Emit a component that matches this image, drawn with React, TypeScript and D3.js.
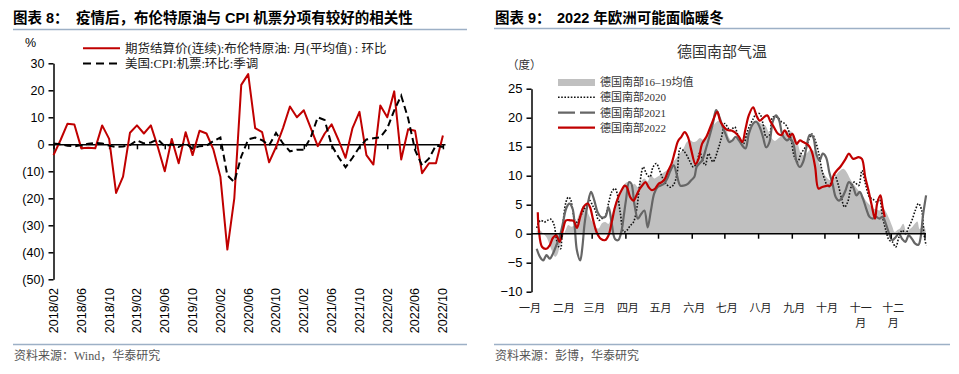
import { FC, useEffect, useRef } from 'react';
import * as d3 from 'd3';

// ---------- 图表 8 ----------
const LEFT_X_LABELS = [
  '2018/02', '2018/06', '2018/10', '2019/02', '2019/06', '2019/10', '2020/02', '2020/06',
  '2020/10', '2021/02', '2021/06', '2021/10', '2022/02', '2022/06', '2022/10',
];
const LEFT_Y_TICKS = [30, 20, 10, 0, -10, -20, -30, -40, -50];

// monthly, 2018/02 .. 2022/10
const brentMoM = [
  -4, 1.5, 7.6, 7.3, -1.5, -1.3, -1.5, 7, 2, -18, -12,
  4.3, 7, 4, 7, -1, -10, 2, -7, 4.5, -4, 5, 4,
  -2, -12, -39, -20, 22, 26, 6, 4.5, -6.7, -1, 6, 14,
  10, 12.6, 6, -0.7, 4, 7.4, 1.5, -5, 6, 12, -4, -7.5,
  14.4, 10, 19.6, -5.6, 5.6, 5, -10.7, -7, -7, 3.3,
];
const airfareMoM = [
  0.3, 0, -0.5, -0.8, -0.3, 0.2, 0.5, 0.3, -0.5, -1, -0.8,
  -0.3, 1.5, 0.3, 0.7, 1.8, -0.7, 0, -1, 0.5, -1.7, -0.7, -0.5,
  1.2, 2.5, -11.5, -14, -4.5, 1.8, 2.5, 1.5, -0.4, 4.2, 0.3, -2.6,
  -2, -2, 2.6, 10, 9, -0.4, -4.8, -8.5, -5, -1, 1.8, 2.2,
  2.6, 5.9, 12.6, 18, 9.6, -2.2, -7.8, -5.2, -0.4, -1,
];

// ---------- 图表 9 ----------
const MONTH_LABELS = ['一月', '二月', '三月', '四月', '五月', '六月', '七月', '八月', '九月', '十月', '十一月', '十二月'];
const MONTH_START_DAYS = [0, 31, 59, 90, 120, 151, 181, 212, 243, 273, 304, 334, 365];
const RIGHT_Y_TICKS = [25, 20, 15, 10, 5, 0, -5, -10];

// [day of year, °C]
const avg1619: [number, number][] = [
  [8, 0.5], [11, 0.6], [14, 0], [17, -0.6], [20, -2], [22, -3], [25, -4], [27, -3.6], [29, -2.3], [32, -0.6],
  [35, 0.8], [37, 1.5], [40, 1.2], [43, 1.5], [46, 2.9], [49, 4.2], [51, 4.8], [54, 4], [57, 2.8], [60, 1.7],
  [63, 1], [65, 0.9], [68, 1.8], [71, 2], [74, 1.7], [77, 3.4], [80, 5], [82, 6.3], [86, 7.5], [89, 8.6],
  [92, 8.9], [95, 8.3], [98, 8.6], [101, 8], [104, 9], [107, 9.5], [110, 9], [113, 10.1], [116, 9.5], [119, 9.8],
  [122, 10.2], [125, 10.6], [128, 11], [131, 11.8], [134, 12.5], [137, 13.2], [140, 14], [143, 14.7], [146, 15.8],
  [149, 16.1], [152, 15.8], [155, 16], [158, 16.5], [161, 16.2], [164, 16.5], [167, 17.5], [170, 18.5], [173, 19.2],
  [176, 19.5], [179, 19], [182, 18.2], [185, 16.5], [188, 16], [191, 16.4], [194, 16.3], [197, 16], [200, 16.8],
  [203, 18], [206, 18.8], [209, 19.3], [212, 19.2], [215, 18.9], [218, 18.7], [221, 17.6], [224, 16.5], [227, 16],
  [230, 16.4], [233, 16.9], [236, 17.3], [239, 17.7], [242, 17.6], [245, 16.8], [248, 15.6], [251, 13.8], [254, 13.5],
  [257, 14], [260, 14.6], [263, 14.2], [266, 12.8], [269, 11.6], [272, 10.4], [275, 9.6], [278, 9.2], [281, 9.5],
  [284, 10.3], [287, 10.9], [290, 11.2], [293, 10.6], [296, 9.5], [299, 8.6], [302, 7.9], [305, 7.2], [308, 6.4],
  [311, 5.6], [314, 5], [317, 4.4], [320, 4.2], [323, 4], [326, 4.4], [329, 3.8], [332, 2.6], [335, 1.2], [337, 0.3],
  [340, 0.7], [342, 0.9], [345, 1.7], [348, 0.3], [351, 0.8], [353, 1.1], [356, 1.8], [358, 2.1], [360, 0.8],
  [362, 1.2], [364, 1.4], [366, 0],
];
const temp2020: [number, number][] = [
  [8, 1], [10, 2], [12, 2.3], [15, 2], [18, 2.3], [21, 2.5], [24, 1.5], [26, -0.8], [28, -2.2], [30, -2.6], [31, -1],
  [33, 3.2], [35, 5.5], [37, 6.3], [39, 6], [41, 4.2], [43, 2.3], [45, 2], [48, 2.9], [51, 4], [54, 4.9], [57, 5.7],
  [59, 5], [62, 4], [65, 2.3], [68, 2.6], [71, 3], [74, 5.2], [77, 7.2], [80, 7.8], [82, 6.9], [85, 3.4], [88, 0.3],
  [91, 0.6], [94, 1.4], [97, 2], [100, 4.3], [103, 8.9], [106, 11.5], [109, 10.3], [112, 9.8], [115, 11.5], [118, 12.1],
  [121, 10.9], [124, 9.5], [127, 8.6], [131, 8], [134, 8.5], [137, 10.3], [140, 14.7], [143, 14.3], [146, 13.5],
  [149, 12.4], [152, 11.5], [155, 12.2], [158, 14], [161, 12.4], [163, 11.8], [166, 13.8], [170, 12.4], [175, 14.7],
  [178, 16.7], [181, 19], [184, 18.2], [186, 17.8], [190, 18.4], [193, 17], [198, 15.5], [202, 17.8], [207, 19.8],
  [210, 20.7], [213, 20.7], [216, 19], [219, 16.7], [222, 17], [225, 20.1], [229, 20.1], [233, 19.3], [236, 19],
  [239, 18.1], [242, 16.1], [245, 13.2], [248, 12.4], [251, 13.8], [256, 15.2], [261, 17.2], [264, 16.1], [267, 14.1],
  [270, 11.2], [273, 9.2], [276, 8], [279, 8.9], [282, 10.1], [285, 8.6], [288, 6.3], [291, 4.6], [294, 5.5], [297, 8],
  [300, 8.9], [304, 8.3], [307, 10.9], [310, 8.8], [314, 6.3], [317, 6], [320, 5.5], [323, 6], [326, 2.9], [329, 0.6],
  [332, -1.1], [335, -1.4], [338, -2.3], [341, -0.6], [344, 0.6], [347, 0], [350, 1.1], [353, 2.3], [356, 4],
  [359, 5.2], [362, 4], [364, 0], [366, -2],
];
const temp2021: [number, number][] = [
  [8, -2.6], [11, -4], [14, -4.6], [17, -3.7], [20, -4.3], [23, -3.4], [26, -2], [29, -0.6], [32, 1.7], [35, 4.3],
  [38, 5.2], [41, 4.3], [43, 1.1], [45, -2.9], [48, -4.6], [50, -2.3], [52, 1.7], [55, 5.2], [58, 7.2], [61, 5.7],
  [64, 3.7], [67, 2.9], [71, 2.9], [74, 4.6], [77, 1.7], [80, -0.9], [83, -1.1], [86, 0.5], [88, 3], [90, 5.7],
  [93, 8.9], [95, 8.6], [98, 4.9], [101, 2.6], [104, 3.4], [107, 4], [110, 1.1], [113, 4], [116, 6.9], [119, 8],
  [122, 8.3], [125, 8.6], [128, 9.5], [131, 10.9], [134, 11.8], [137, 10], [140, 8.3], [143, 8.3], [147, 8.6],
  [150, 9.2], [153, 9.8], [155, 11.5], [158, 12.2], [160, 12.6], [164, 14.9], [170, 19], [173, 21.3], [176, 20.1],
  [179, 18.4], [182, 17], [185, 15.8], [188, 16.1], [191, 16.7], [194, 16.1], [197, 15.2], [200, 14.7], [203, 17.2],
  [207, 19], [210, 19.3], [213, 18.4], [216, 16.7], [219, 14.9], [222, 15.8], [225, 19.3], [228, 20.4], [231, 19.5],
  [234, 17], [238, 16.1], [241, 16.4], [244, 15.5], [247, 12.4], [250, 11.5], [253, 12.4], [256, 14.9], [259, 17],
  [262, 16.7], [265, 13.8], [268, 12.6], [271, 13.8], [274, 13.2], [277, 10.6], [280, 8.6], [283, 6.3], [286, 5.7],
  [289, 6.3], [292, 7.5], [295, 8.9], [299, 8], [302, 6.6], [305, 7.2], [308, 6], [311, 4.3], [314, 2.9], [317, 2.6],
  [320, 2.9], [323, 2.6], [326, 2.9], [329, 1.7], [332, 0], [335, -1.1], [338, -0.6], [341, 0], [344, -0.9],
  [347, -1.4], [350, -0.3], [353, -0.9], [356, -1.7], [359, -1.9], [361, -0.6], [363, 2.9], [366, 6.6],
];
const temp2022: [number, number][] = [
  [9, 3.7], [10, 0.6], [13, -2.3], [17, -2.6], [20, -2], [23, -0.7], [26, -0.3], [29, -1.4], [32, 0.6], [35, 2.3],
  [39, 2.3], [42, 2.2], [45, 1], [48, 2.9], [51, 4.6], [55, 5.2], [57, 4.6], [60, 2.3], [63, 0.3], [67, -0.9],
  [71, -1.1], [74, -0.3], [77, 2], [80, 4.6], [83, 6.3], [86, 7.5], [89, 8.3], [91, 8], [94, 6.3], [97, 5.7],
  [99, 6.3], [102, 7.5], [105, 8.3], [108, 8.9], [111, 8], [114, 7.5], [117, 7.8], [120, 8.6], [123, 8.9], [126, 9.5],
  [129, 10.9], [132, 12.1], [135, 14.1], [138, 16], [141, 16.7], [144, 17.5], [147, 16.7], [150, 14.5], [154, 12],
  [157, 13], [160, 15.5], [164, 16.7], [169, 19], [174, 21], [177, 19.3], [183, 17.9], [187, 17.8], [190, 17.5],
  [194, 16.7], [197, 15.8], [200, 18.1], [203, 20.4], [207, 21.8], [210, 20.4], [213, 19.5], [217, 20.1], [220, 20.4],
  [223, 19.3], [226, 18.4], [230, 17.2], [233, 17], [236, 17.8], [240, 16.7], [243, 17.2], [247, 15.5], [250, 16.1],
  [253, 15.8], [258, 15.2], [261, 14.1], [264, 11.5], [267, 7.8], [270, 8], [275, 8.3], [278, 8.3], [281, 10.1],
  [284, 10.9], [287, 11.5], [292, 12.9], [295, 13.8], [299, 12.9], [304, 13.2], [307, 12.9], [310, 9.8], [313, 7.5],
  [316, 4.9], [319, 2.6], [321, 5.2], [324, 6.6], [326, 4.6], [328, 2.9],
];

const SANS = '"Liberation Sans", Arial, "Noto Sans CJK SC", sans-serif';
const CJK = '"Liberation Serif", "Noto Sans CJK SC", serif';
const RED = '#C00000';
const RULE = '#9DB0C6';

type Svg = d3.Selection<SVGSVGElement, unknown, null, undefined>;

const styleAxis = (g: d3.Selection<SVGGElement, unknown, null, undefined>, size: number) => {
  g.selectAll('path, line').attr('stroke', '#000').attr('stroke-width', 1.5);
  g.selectAll('text').attr('font-size', size).attr('font-family', SANS).attr('fill', '#000');
};

const drawLeft = (svg: Svg) => {
  const g = svg.append('g');

  g.append('text').attr('x', 13).attr('y', 23).attr('font-family', SANS).attr('font-weight', 'bold')
    .attr('font-size', 14.5).text('图表 8：');
  g.append('text').attr('x', 76).attr('y', 23).attr('font-family', SANS).attr('font-weight', 'bold')
    .attr('font-size', 14.5).text('疫情后，布伦特原油与 CPI 机票分项有较好的相关性');
  g.append('line').attr('x1', 13).attr('x2', 467).attr('y1', 29.5).attr('y2', 29.5)
    .attr('stroke', RULE).attr('stroke-width', 1.5);
  g.append('line').attr('x1', 13).attr('x2', 467).attr('y1', 344.5).attr('y2', 344.5)
    .attr('stroke', RULE).attr('stroke-width', 1.5);
  g.append('text').attr('x', 14).attr('y', 360).attr('font-family', CJK).attr('font-size', 12)
    .attr('fill', '#555').text('资料来源：Wind，华泰研究');

  const xL = d3.scaleLinear().domain([0, 56.3]).range([53.5, 445]);
  const yL = d3.scaleLinear().domain([-50, 30]).range([279.3, 63.3]);

  g.append('text').attr('x', 25).attr('y', 47).attr('font-family', SANS).attr('font-size', 12.5).text('%');

  const yAxis = g.append('g').attr('transform', 'translate(53.5,0)')
    .call(d3.axisLeft(yL).tickValues(LEFT_Y_TICKS)
      .tickFormat((d) => (+d < 0 ? `(${-d})` : `${d}`))
      .tickSizeInner(5).tickSizeOuter(0).tickPadding(4));
  styleAxis(yAxis, 12.5);

  const xAxis = g.append('g').attr('transform', `translate(0,${yL(0)})`)
    .call(d3.axisBottom(xL).tickValues(d3.range(0, brentMoM.length, 4))
      .tickFormat(() => '').tickSizeInner(5).tickSizeOuter(0));
  styleAxis(xAxis, 12.5);

  LEFT_X_LABELS.forEach((lab, i) => {
    g.append('text')
      .attr('transform', `translate(${xL(i * 4)},288) rotate(-90)`)
      .attr('text-anchor', 'end').attr('dy', '0.35em')
      .attr('font-family', SANS).attr('font-size', 12.5).text(lab);
  });

  const line = d3.line<number>().x((_, i) => xL(i)).y((d) => yL(d));
  g.append('path').attr('d', line(brentMoM)).attr('fill', 'none').attr('stroke', RED)
    .attr('stroke-width', 2).attr('stroke-linejoin', 'round');
  g.append('path').attr('d', line(airfareMoM)).attr('fill', 'none').attr('stroke', '#000')
    .attr('stroke-width', 2).attr('stroke-dasharray', '7,4');

  // legend
  g.append('line').attr('x1', 83).attr('x2', 120).attr('y1', 48.3).attr('y2', 48.3)
    .attr('stroke', RED).attr('stroke-width', 2);
  g.append('text').attr('x', 125).attr('y', 52.5).attr('font-family', CJK).attr('font-size', 12.5)
    .attr('fill', '#222').text('期货结算价(连续):布伦特原油: 月(平均值) : 环比');
  g.append('line').attr('x1', 83).attr('x2', 118).attr('y1', 63.5).attr('y2', 63.5)
    .attr('stroke', '#000').attr('stroke-width', 2).attr('stroke-dasharray', '8,5');
  g.append('text').attr('x', 125).attr('y', 68).attr('font-family', CJK).attr('font-size', 12.5)
    .attr('fill', '#222').text('美国:CPI:机票:环比:季调');
};

const drawRight = (svg: Svg) => {
  const g = svg.append('g');

  g.append('text').attr('x', 495).attr('y', 23).attr('font-family', SANS).attr('font-weight', 'bold')
    .attr('font-size', 14.5).text('图表 9：');
  g.append('text').attr('x', 557).attr('y', 23).attr('font-family', SANS).attr('font-weight', 'bold')
    .attr('font-size', 14.5).text('2022 年欧洲可能面临暖冬');
  g.append('line').attr('x1', 494).attr('x2', 950).attr('y1', 28.5).attr('y2', 28.5)
    .attr('stroke', RULE).attr('stroke-width', 1.5);
  g.append('line').attr('x1', 494).attr('x2', 950).attr('y1', 344.5).attr('y2', 344.5)
    .attr('stroke', RULE).attr('stroke-width', 1.5);
  g.append('text').attr('x', 495).attr('y', 360).attr('font-family', CJK).attr('font-size', 12)
    .attr('fill', '#555').text('资料来源：彭博，华泰研究');

  g.append('text').attr('x', 722).attr('y', 57).attr('text-anchor', 'middle').attr('font-family', CJK)
    .attr('font-size', 15).attr('fill', '#333').text('德国南部气温');
  g.append('text').attr('x', 507).attr('y', 69).attr('font-family', CJK).attr('font-size', 11.5)
    .attr('fill', '#333').text('（度）');

  const xR = d3.scaleLinear().domain([0, 365]).range([528, 925]);
  const yR = d3.scaleLinear().domain([-10, 25]).range([291.7, 88.7]);

  const area = d3.area<[number, number]>().x((d) => xR(d[0])).y0(yR(0)).y1((d) => yR(d[1]))
    .curve(d3.curveCatmullRom);
  const line = d3.line<[number, number]>().x((d) => xR(d[0])).y((d) => yR(d[1]))
    .curve(d3.curveCatmullRom);

  g.append('path').attr('d', area(avg1619)).attr('fill', '#C0C0C0');
  g.append('path').attr('d', line(temp2020)).attr('fill', 'none').attr('stroke', '#111')
    .attr('stroke-width', 1.6).attr('stroke-dasharray', '1.6,1.6');
  g.append('path').attr('d', line(temp2021)).attr('fill', 'none').attr('stroke', '#666')
    .attr('stroke-width', 2.2);
  g.append('path').attr('d', line(temp2022)).attr('fill', 'none').attr('stroke', RED)
    .attr('stroke-width', 2.2);

  const yAxis = g.append('g').attr('transform', 'translate(531.5,0)')
    .call(d3.axisLeft(yR).tickValues(RIGHT_Y_TICKS).tickSizeInner(5).tickSizeOuter(0).tickPadding(4));
  styleAxis(yAxis, 13);

  const y0 = yR(0);
  g.append('line').attr('x1', 531.5).attr('x2', 926).attr('y1', y0).attr('y2', y0)
    .attr('stroke', '#000').attr('stroke-width', 1.5);
  g.selectAll('.mtick').data(MONTH_START_DAYS.slice(1)).join('line').attr('class', 'mtick')
    .attr('x1', (d) => xR(d)).attr('x2', (d) => xR(d)).attr('y1', y0).attr('y2', y0 + 5)
    .attr('stroke', '#000').attr('stroke-width', 1.5);

  MONTH_LABELS.forEach((lab, i) => {
    const t = g.append('text').attr('x', xR(MONTH_START_DAYS[i]) + 2).attr('y', 312)
      .attr('text-anchor', 'middle').attr('font-family', CJK).attr('font-size', 11).attr('fill', '#222');
    if (lab.length > 2) {
      t.append('tspan').attr('x', xR(MONTH_START_DAYS[i]) + 2).text(lab.slice(0, 2));
      t.append('tspan').attr('x', xR(MONTH_START_DAYS[i]) + 2).attr('dy', 15).text(lab.slice(2));
    } else {
      t.text(lab);
    }
  });

  // legend
  const lx1 = 558;
  const lx2 = 595;
  g.append('rect').attr('x', lx1).attr('y', 79).attr('width', lx2 - lx1).attr('height', 7).attr('fill', '#C0C0C0');
  g.append('line').attr('x1', lx1).attr('x2', lx2).attr('y1', 97.3).attr('y2', 97.3)
    .attr('stroke', '#111').attr('stroke-width', 1.6).attr('stroke-dasharray', '1.6,1.6');
  g.append('line').attr('x1', lx1).attr('x2', lx2).attr('y1', 112.7).attr('y2', 112.7)
    .attr('stroke', '#666').attr('stroke-width', 2.2).attr('stroke-dasharray', '17,5');
  g.append('line').attr('x1', lx1).attr('x2', lx2).attr('y1', 127.7).attr('y2', 127.7)
    .attr('stroke', RED).attr('stroke-width', 2.2);
  const legendText = ['德国南部16–19均值', '德国南部2020', '德国南部2021', '德国南部2022'];
  legendText.forEach((t, i) => {
    g.append('text').attr('x', 600).attr('y', [86, 101.3, 116.7, 131.7][i]).attr('font-family', CJK)
      .attr('font-size', 11).attr('fill', '#333').text(t);
  });
};

const App: FC = () => {
  const svgRef = useRef<SVGSVGElement>(null);

  useEffect(() => {
    if (!svgRef.current) return;
    const svg = d3.select(svgRef.current);
    svg.selectAll('*').remove();
    svg.append('rect').attr('width', 959).attr('height', 374).attr('fill', '#fff');
    drawLeft(svg);
    drawRight(svg);
  }, []);

  return (
    <svg
      ref={svgRef}
      width={959}
      height={374}
      style={{ position: 'absolute', left: 0, top: 0, display: 'block' }}
    />
  );
};

export default App;
